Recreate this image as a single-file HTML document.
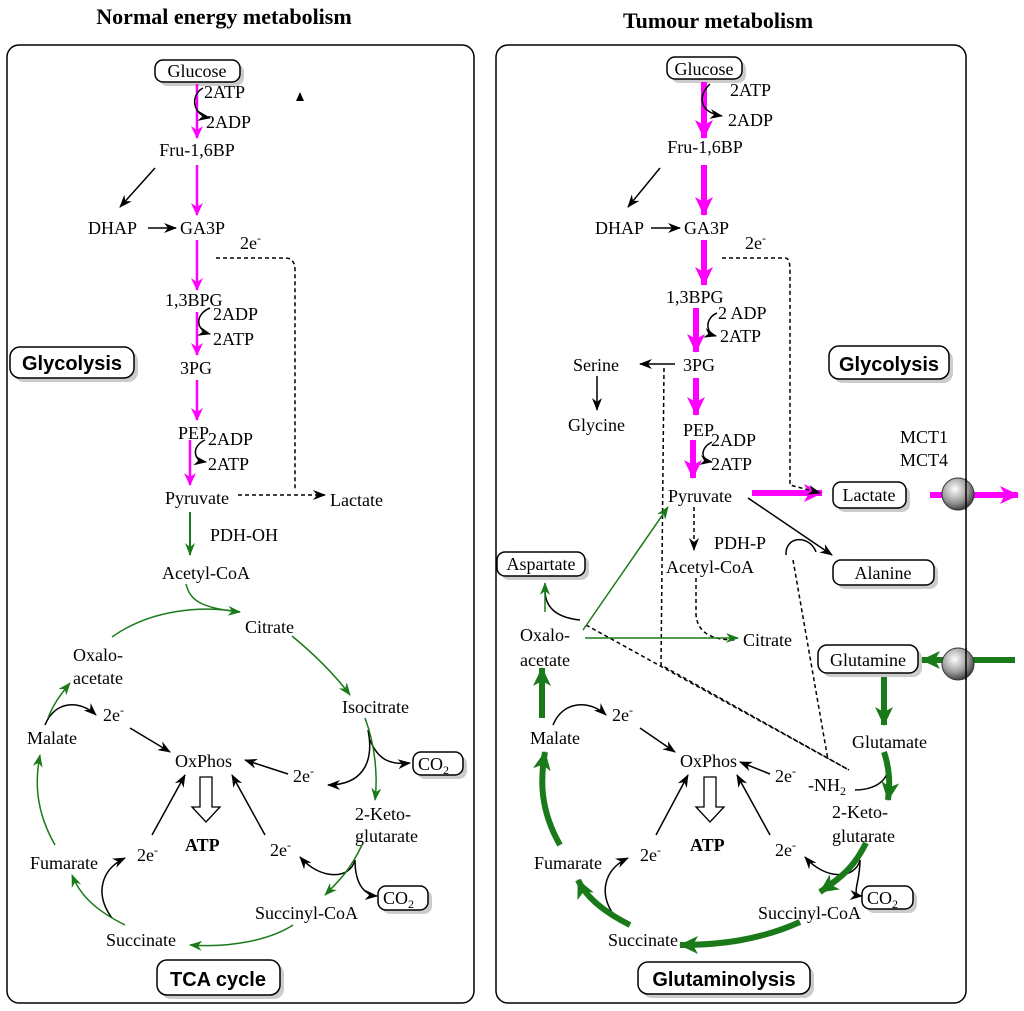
<!DOCTYPE html>
<html><head><meta charset="utf-8"><style>
body{margin:0;background:#fff;}
svg{display:block;font-family:"Liberation Serif",serif;}
.t{font-size:18px;fill:#000;}
.b{font-family:"Liberation Sans",sans-serif;font-weight:bold;font-size:20px;}
</style></head><body>
<svg width="1024" height="1011" viewBox="0 0 1024 1011" xmlns="http://www.w3.org/2000/svg">
<defs>
<marker id="k" markerUnits="userSpaceOnUse" markerWidth="14" markerHeight="10" refX="12" refY="5" orient="auto"><path d="M0,0 L13,5 L0,10 L4,5z" fill="#000"/></marker>
<marker id="g" markerUnits="userSpaceOnUse" markerWidth="14" markerHeight="10" refX="12" refY="5" orient="auto"><path d="M0,0 L13,5 L0,10 L4,5z" fill="#1a7a1a"/></marker>
<marker id="m" markerUnits="userSpaceOnUse" markerWidth="14" markerHeight="12" refX="12" refY="6" orient="auto"><path d="M0,0 L13,6 L0,12 L4,6z" fill="#f0f"/></marker>
<marker id="G" markerUnits="userSpaceOnUse" markerWidth="20" markerHeight="18" refX="18" refY="9" orient="auto"><path d="M0,0 L19,9 L0,18 L5,9z" fill="#1a7a1a"/></marker>
<marker id="M" markerUnits="userSpaceOnUse" markerWidth="20" markerHeight="18" refX="18" refY="9" orient="auto"><path d="M0,0 L19,9 L0,18 L5,9z" fill="#f0f"/></marker>
<radialGradient id="sp" cx="0.4" cy="0.35" r="0.7"><stop offset="0" stop-color="#fff"/><stop offset="0.6" stop-color="#999"/><stop offset="1" stop-color="#333"/></radialGradient>
</defs>
<text x="224" y="24" text-anchor="middle" font-weight="bold" font-size="22">Normal energy metabolism</text>
<text x="718" y="28" text-anchor="middle" font-weight="bold" font-size="22">Tumour metabolism</text>
<rect x="7" y="45" width="467" height="958" rx="12" fill="none" stroke="#000" stroke-width="1.5"/>
<rect x="496" y="45" width="470" height="958" rx="12" fill="none" stroke="#000" stroke-width="1.5"/>

<g fill="#ccc"><rect x="159" y="64" width="85" height="22" rx="8"/><rect x="14" y="351" width="124" height="31" rx="10"/><rect x="161" y="964" width="123" height="35" rx="10"/><rect x="417" y="756" width="50" height="23" rx="8"/><rect x="382" y="890" width="50" height="24" rx="8"/>
<rect x="671" y="61" width="75" height="22" rx="8"/><rect x="833" y="350" width="120" height="33" rx="10"/><rect x="837" y="486" width="73" height="26" rx="8"/><rect x="837" y="564" width="101" height="25" rx="8"/><rect x="501" y="556" width="88" height="24" rx="8"/><rect x="822" y="649" width="100" height="28" rx="9"/><rect x="866" y="890" width="51" height="23" rx="8"/><rect x="642" y="966" width="172" height="32" rx="10"/></g>
<g fill="#fff" stroke="#000" stroke-width="1.5"><rect x="155" y="60" width="85" height="22" rx="8"/><rect x="10" y="347" width="124" height="31" rx="10"/><rect x="157" y="960" width="123" height="35" rx="10"/><rect x="413" y="752" width="50" height="23" rx="8"/><rect x="378" y="886" width="50" height="24" rx="8"/>
<rect x="667" y="57" width="75" height="22" rx="8"/><rect x="829" y="346" width="120" height="33" rx="10"/><rect x="833" y="482" width="73" height="26" rx="8"/><rect x="833" y="560" width="101" height="25" rx="8"/><rect x="497" y="552" width="88" height="24" rx="8"/><rect x="818" y="645" width="100" height="28" rx="9"/><rect x="862" y="886" width="51" height="23" rx="8"/><rect x="638" y="962" width="172" height="32" rx="10"/></g>

<g class="t">
<text x="197" y="77" text-anchor="middle">Glucose</text>
<text x="204" y="98">2ATP</text><text x="206" y="128">2ADP</text>
<text x="197" y="156" text-anchor="middle">Fru-1,6BP</text>
<text x="88" y="234">DHAP</text><text x="180" y="234">GA3P</text>
<text x="240" y="249">2e<tspan dy="-7" font-size="12">-</tspan></text>
<text x="165" y="306">1,3BPG</text><text x="213" y="320">2ADP</text><text x="213" y="345">2ATP</text>
<text x="180" y="374">3PG</text>
<text x="178" y="439">PEP</text><text x="208" y="445">2ADP</text><text x="208" y="470">2ATP</text>
<text x="165" y="504">Pyruvate</text><text x="330" y="506">Lactate</text>
<text x="210" y="541">PDH-OH</text>
<text x="162" y="579">Acetyl-CoA</text>
<text x="245" y="633">Citrate</text>
<text x="73" y="661">Oxalo-</text><text x="73" y="684">acetate</text>
<text x="342" y="713">Isocitrate</text>
<text x="27" y="744">Malate</text>
<text x="103" y="721">2e<tspan dy="-7" font-size="12">-</tspan></text>
<text x="175" y="767">OxPhos</text>
<text x="293" y="782">2e<tspan dy="-7" font-size="12">-</tspan></text>
<text x="355" y="820">2-Keto-</text><text x="355" y="842">glutarate</text>
<text x="185" y="851" font-weight="bold">ATP</text>
<text x="137" y="861">2e<tspan dy="-7" font-size="12">-</tspan></text>
<text x="270" y="856">2e<tspan dy="-7" font-size="12">-</tspan></text>
<text x="30" y="869">Fumarate</text>
<text x="255" y="919">Succinyl-CoA</text>
<text x="106" y="946">Succinate</text>
<text x="418" y="770">CO<tspan dy="4" font-size="12">2</tspan></text>
<text x="383" y="904">CO<tspan dy="4" font-size="12">2</tspan></text>
</g>
<text class="b" x="72" y="370" text-anchor="middle">Glycolysis</text>
<text class="b" x="218" y="986" text-anchor="middle">TCA cycle</text>

<g stroke-width="2.5" stroke="#f0f" fill="none">
<line x1="197" y1="84" x2="197" y2="138" marker-end="url(#m)"/>
<line x1="197" y1="165" x2="197" y2="215" marker-end="url(#m)"/>
<line x1="197" y1="240" x2="197" y2="290" marker-end="url(#m)"/>
<line x1="197" y1="312" x2="197" y2="355" marker-end="url(#m)"/>
<line x1="197" y1="380" x2="197" y2="420" marker-end="url(#m)"/>
<line x1="190" y1="440" x2="190" y2="485" marker-end="url(#m)"/>
</g>
<g stroke="#000" stroke-width="1.5" fill="none">
<path d="M203,88 C190,95 192,115 210,118" marker-end="url(#k)"/>
<path d="M210,308 C195,314 195,330 210,334" marker-end="url(#k)"/>
<path d="M205,440 C192,446 192,460 206,462" marker-end="url(#k)"/>
<line x1="155" y1="168" x2="120" y2="207" marker-end="url(#k)"/>
<line x1="148" y1="228" x2="176" y2="228" marker-end="url(#k)"/>
<path d="M216,258 L285,258 Q295,258 295,270 L295,490" stroke-dasharray="4,3"/>
<line x1="238" y1="495" x2="325" y2="495" stroke-dasharray="4,3" marker-end="url(#k)"/>
<line x1="130" y1="728" x2="170" y2="752" marker-end="url(#k)"/>
<path d="M45,725 C55,700 80,700 96,715" marker-end="url(#k)"/>
<line x1="288" y1="774" x2="245" y2="760" marker-end="url(#k)"/>
<path d="M368,730 C375,765 360,785 328,785" marker-end="url(#k)"/>
<path d="M370,740 C378,760 390,765 410,763" marker-end="url(#k)"/>
<line x1="152" y1="835" x2="185" y2="775" marker-end="url(#k)"/>
<line x1="265" y1="835" x2="232" y2="775" marker-end="url(#k)"/>
<path d="M355,860 C350,880 320,880 300,857" marker-end="url(#k)"/>
<path d="M355,860 C355,885 365,895 377,896" marker-end="url(#k)"/>
<path d="M112,918 C95,895 100,870 125,858" marker-end="url(#k)"/>
</g>
<g stroke="#1a7a1a" stroke-width="1.5" fill="none">
<line x1="190" y1="512" x2="190" y2="555" marker-end="url(#g)" stroke-width="2"/>
<path d="M186,584 C190,600 200,608 240,612" marker-end="url(#g)"/>
<path d="M112,637 C150,610 200,605 240,612"/>
<path d="M292,636 C315,655 335,675 350,695" marker-end="url(#g)"/>
<path d="M365,718 C375,745 378,775 375,800" marker-end="url(#g)"/>
<path d="M362,845 C350,870 340,880 325,895" marker-end="url(#g)"/>
<path d="M293,925 C270,940 230,948 190,945" marker-end="url(#g)"/>
<path d="M125,925 C95,910 80,895 72,875" marker-end="url(#g)"/>
<path d="M55,845 C35,810 35,780 40,755" marker-end="url(#g)"/>
<path d="M48,718 C53,705 60,695 70,683" marker-end="url(#g)"/>
</g>
<path d="M200,777 h12 v30 h8 l-14,15 l-14,-15 h8z" fill="#fff" stroke="#000" stroke-width="1.3"/>
<path d="M300,92 l4,9 l-8,0z" fill="#000"/>

<g class="t">
<text x="704" y="75" text-anchor="middle">Glucose</text>
<text x="730" y="96">2ATP</text><text x="728" y="126">2ADP</text>
<text x="705" y="153" text-anchor="middle">Fru-1,6BP</text>
<text x="595" y="234">DHAP</text><text x="684" y="234">GA3P</text>
<text x="745" y="249">2e<tspan dy="-7" font-size="12">-</tspan></text>
<text x="666" y="303">1,3BPG</text><text x="718" y="319">2 ADP</text><text x="720" y="342">2ATP</text>
<text x="573" y="371">Serine</text><text x="683" y="371">3PG</text>
<text x="568" y="431">Glycine</text>
<text x="683" y="436">PEP</text><text x="711" y="446">2ADP</text><text x="711" y="470">2ATP</text>
<text x="900" y="443">MCT1</text><text x="900" y="466">MCT4</text>
<text x="668" y="502">Pyruvate</text>
<text x="869" y="501" text-anchor="middle">Lactate</text>
<text x="714" y="549">PDH-P</text>
<text x="666" y="573">Acetyl-CoA</text>
<text x="883" y="579" text-anchor="middle">Alanine</text>
<text x="541" y="570" text-anchor="middle">Aspartate</text>
<text x="520" y="641">Oxalo-</text><text x="520" y="666">acetate</text>
<text x="743" y="646">Citrate</text>
<text x="868" y="666" text-anchor="middle">Glutamine</text>
<text x="852" y="748">Glutamate</text>
<text x="808" y="791">-NH<tspan dy="4" font-size="12">2</tspan></text>
<text x="832" y="818">2-Keto-</text><text x="832" y="842">glutarate</text>
<text x="530" y="744">Malate</text>
<text x="612" y="721">2e<tspan dy="-7" font-size="12">-</tspan></text>
<text x="680" y="767">OxPhos</text>
<text x="775" y="782">2e<tspan dy="-7" font-size="12">-</tspan></text>
<text x="690" y="851" font-weight="bold">ATP</text>
<text x="640" y="861">2e<tspan dy="-7" font-size="12">-</tspan></text>
<text x="775" y="856">2e<tspan dy="-7" font-size="12">-</tspan></text>
<text x="534" y="869">Fumarate</text>
<text x="758" y="919">Succinyl-CoA</text>
<text x="608" y="946">Succinate</text>
<text x="867" y="904">CO<tspan dy="4" font-size="12">2</tspan></text>
</g>
<text class="b" x="889" y="371" text-anchor="middle">Glycolysis</text>
<text class="b" x="724" y="986" text-anchor="middle">Glutaminolysis</text>

<g stroke-width="6" stroke="#f0f" fill="none">
<line x1="704" y1="82" x2="704" y2="138" marker-end="url(#M)"/>
<line x1="704" y1="165" x2="704" y2="215" marker-end="url(#M)"/>
<line x1="704" y1="240" x2="704" y2="285" marker-end="url(#M)"/>
<line x1="696" y1="308" x2="696" y2="352" marker-end="url(#M)"/>
<line x1="696" y1="378" x2="696" y2="415" marker-end="url(#M)"/>
<line x1="693" y1="440" x2="693" y2="478" marker-end="url(#M)"/>
<line x1="752" y1="493" x2="822" y2="493" marker-end="url(#M)"/>
<line x1="930" y1="495" x2="1018" y2="495" marker-end="url(#M)"/>
</g>
<g stroke="#000" stroke-width="1.5" fill="none">
<path d="M710,84 C698,95 698,112 722,116" marker-end="url(#k)"/>
<path d="M717,313 C705,318 705,333 716,336" marker-end="url(#k)"/>
<path d="M712,442 C700,448 700,460 712,462" marker-end="url(#k)"/>
<line x1="660" y1="168" x2="628" y2="207" marker-end="url(#k)"/>
<line x1="651" y1="228" x2="680" y2="228" marker-end="url(#k)"/>
<line x1="675" y1="364" x2="640" y2="364" marker-end="url(#k)"/>
<line x1="597" y1="376" x2="597" y2="410" marker-end="url(#k)"/>
<path d="M722,258 L785,258 Q790,258 790,270 L790,485 L820,493" stroke-dasharray="4,3" marker-end="url(#k)"/>
<line x1="694" y1="507" x2="694" y2="550" stroke-dasharray="4,3" marker-end="url(#k)"/>
<path d="M696,578 L696,615 C698,635 715,640 735,640" stroke-dasharray="4,3"/>
<line x1="748" y1="498" x2="832" y2="555" marker-end="url(#k)"/>
<path d="M786,555 C785,535 810,535 816,552"/>
<path d="M664,368 L661,665 L849,770" stroke-dasharray="4,3"/>
<path d="M586,625 L849,770" stroke-dasharray="4,3"/>
<path d="M793,560 L828,760" stroke-dasharray="4,3"/>
<path d="M545,590 C545,610 560,618 580,620"/>
<line x1="640" y1="728" x2="675" y2="752" marker-end="url(#k)"/>
<path d="M553,725 C563,700 590,700 606,715" marker-end="url(#k)"/>
<line x1="770" y1="774" x2="740" y2="762" marker-end="url(#k)"/>
<path d="M885,755 C895,775 880,790 855,790"/>
<line x1="656" y1="835" x2="688" y2="775" marker-end="url(#k)"/>
<line x1="770" y1="835" x2="737" y2="775" marker-end="url(#k)"/>
<path d="M860,860 C855,880 825,880 805,857" marker-end="url(#k)"/>
<path d="M860,860 C860,885 850,895 862,896" marker-end="url(#k)"/>
<path d="M616,918 C598,895 603,870 628,858" marker-end="url(#k)"/>
</g>
<g stroke="#1a7a1a" stroke-width="1.5" fill="none">
<line x1="583" y1="630" x2="668" y2="507" marker-end="url(#g)"/>
<line x1="585" y1="638" x2="738" y2="638" marker-end="url(#g)"/>
<line x1="545" y1="612" x2="545" y2="583" marker-end="url(#g)"/>
</g>
<g stroke="#1a7a1a" stroke-width="6" fill="none">
<line x1="1015" y1="660" x2="922" y2="660" marker-end="url(#G)"/>
<line x1="884" y1="677" x2="884" y2="725" marker-end="url(#G)"/>
<path d="M884,752 C890,770 890,785 888,800" marker-end="url(#G)"/>
<path d="M866,843 C855,865 845,875 820,892" marker-end="url(#G)"/>
<path d="M800,922 C760,940 720,945 680,945" marker-end="url(#G)"/>
<path d="M630,925 C600,910 585,895 578,880" marker-end="url(#G)"/>
<path d="M560,845 C540,810 540,780 545,752" marker-end="url(#G)"/>
<line x1="542" y1="718" x2="542" y2="668" marker-end="url(#G)"/>
</g>
<path d="M704,777 h12 v30 h8 l-14,15 l-14,-15 h8z" fill="#fff" stroke="#000" stroke-width="1.3"/>
<circle cx="958" cy="494" r="16" fill="url(#sp)" stroke="#333"/>
<circle cx="958" cy="664" r="16" fill="url(#sp)" stroke="#333"/>
<line x1="966" y1="478" x2="966" y2="510" stroke="#000" stroke-width="1.5"/>
<line x1="966" y1="648" x2="966" y2="680" stroke="#000" stroke-width="1.5"/>
</svg>
</body></html>
